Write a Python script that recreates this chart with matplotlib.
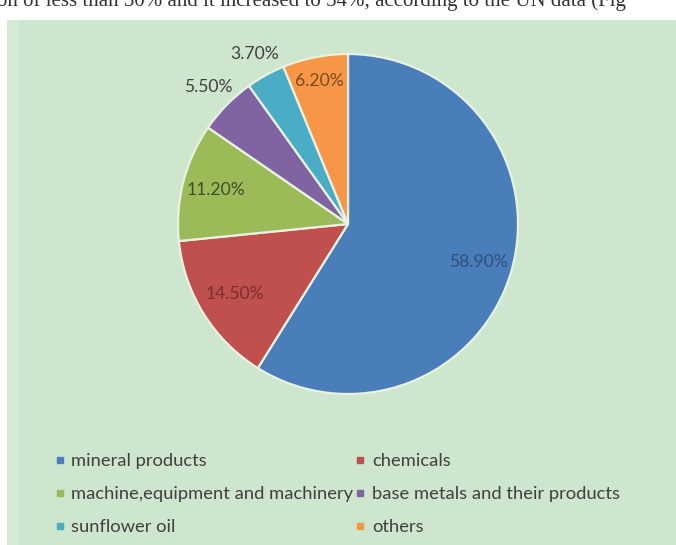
import numpy as np
import matplotlib
matplotlib.use("Agg")
import matplotlib.pyplot as plt
from matplotlib.patches import Rectangle
from matplotlib.lines import Line2D

categories = ["mineral products", "chemicals", "machine,equipment and machinery",
              "base metals and their products", "sunflower oil", "others"]
shares = [58.9, 14.5, 11.2, 5.5, 3.7, 6.2]
labels = ["58.90%", "14.50%", "11.20%", "5.50%", "3.70%", "6.20%"]

colors = ["#4a7ebb", "#c0504d", "#9bbb59", "#8064a2", "#4bacc6", "#f79646"]
label_colors = ["#2f4f7a", "#7a2f2d", "#3f4f2a", "#404040", "#404040", "#7a4a1e"]
label_radius = [0.80, 0.78, 0.80, 1.15, 1.14, 0.86]

W, H = 676, 545
fig = plt.figure(figsize=(W / 100, H / 100), dpi=100)
fig.patch.set_facecolor("white")
plt.rcParams["font.family"] = ["Lato", "DejaVu Sans"]

# green panel behind the chart
fig.patches.append(Rectangle((7 / W, 0), 1 - 7 / W, 1 - 20 / H, transform=fig.transFigure,
                             facecolor="#cee5ce", edgecolor="none", zorder=-2))
fig.patches.append(Rectangle((7 / W, 0), 12 / W, 1 - 20 / H, transform=fig.transFigure,
                             facecolor="#d8ecd8", edgecolor="none", zorder=-1, alpha=0.8))

# running text of the page above the chart, clipped by the top edge
fig.text(-0.005, 1 - 6 / H,
         "on of less than 30% and it increased to 54%, according to the UN data (Fig",
         family="Liberation Serif", fontsize=15, color="#333333", va="baseline", ha="left")

cx, cy, r = 348, 224, 170
ax = fig.add_axes([(cx - r) / W, (H - cy - r) / H, 2 * r / W, 2 * r / H])
ax.set_zorder(2)

wedges, _ = ax.pie(shares, colors=colors, startangle=90, counterclock=False, radius=1,
                   wedgeprops=dict(edgecolor="#e8f2e0", linewidth=1.6))
ax.set_xlim(-1, 1)
ax.set_ylim(-1, 1)
ax.set_aspect("equal")
ax.axis("off")

for w, lab, lc, lr in zip(wedges, labels, label_colors, label_radius):
    mid = np.deg2rad((w.theta1 + w.theta2) / 2)
    ax.text(lr * np.cos(mid), lr * np.sin(mid), lab, ha="center", va="center",
            fontsize=12.6, color=lc, clip_on=False)

order = [0, 2, 4, 1, 3, 5]
handles = [Line2D([], [], marker="s", linestyle="none", markersize=4.5,
                  markerfacecolor=colors[i], markeredgecolor=colors[i]) for i in order]
fig.legend(handles, [categories[i] for i in order], ncol=2, loc="upper left",
           bbox_to_anchor=(54 / W, 1 - 453 / H), frameon=False, fontsize=13.2,
           labelcolor="#404040", handlelength=0.6, handletextpad=0.35,
           columnspacing=0.05, labelspacing=0.93, borderpad=0, borderaxespad=0)

fig.savefig("out.png", dpi=100, facecolor=fig.get_facecolor())
